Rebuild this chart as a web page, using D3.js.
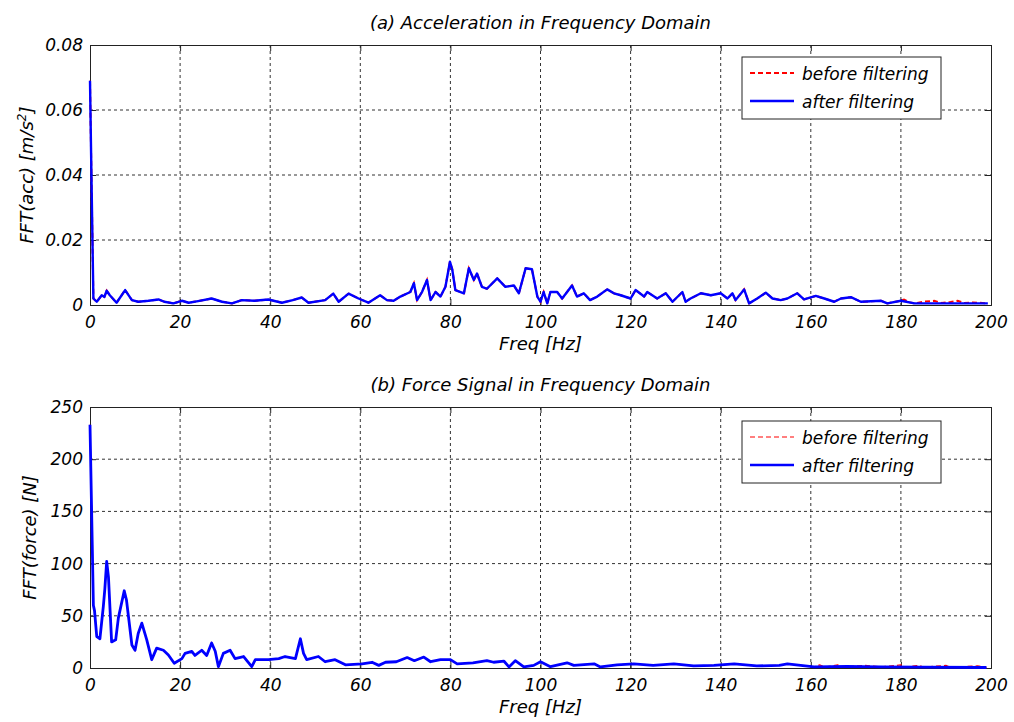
<!DOCTYPE html>
<html>
<head>
<meta charset="utf-8">
<title>FFT before / after filtering</title>
<script src="https://cdnjs.cloudflare.com/ajax/libs/d3/7.8.5/d3.min.js"></script>
<style>
  body { margin: 0; background: #fff; }
  svg text { font-family: "DejaVu Sans", sans-serif; font-style: oblique; fill: #000; }
  .tick text { font-size: 17px; }
</style>
</head>
<body>
<svg id="chart" width="1014" height="722"></svg>
<script>
// ---- data ----
var freqTicks = [0, 20, 40, 60, 80, 100, 120, 140, 160, 180, 200];
var accTicks = [0, 0.02, 0.04, 0.06, 0.08];
var forceTicks = [0, 50, 100, 150, 200, 250];

var accFreq = [0, 0.25, 0.5, 0.75, 1.5, 2.6, 3.2, 3.7, 4.4, 5.9, 7.8, 9.3, 10.7, 13, 15.2, 16.5, 18.5, 20.4, 21.9, 24, 27, 29.3, 31.5, 33.7, 36.5, 39.6, 42.6, 45, 47, 48.5, 52.2, 54, 55.2, 57.4, 59.6, 61.8, 64.4, 65.9, 67.4, 68.9, 71.1, 71.9, 72.6, 73.7, 74.8, 75.6, 76.7, 77.8, 78.9, 79.9, 80.4, 81.1, 83, 84.1, 85.2, 85.9, 87, 88.1, 90.4, 92.2, 94.1, 95.2, 96.7, 98.1, 99.3, 100, 100.7, 101.5, 102.2, 103.7, 104.8, 107, 108.1, 109.6, 111, 112.6, 114.8, 116.3, 117.8, 120, 121.1, 123, 123.7, 125.9, 127.8, 129.3, 131.5, 132.2, 133.3, 135.6, 137.8, 140, 141.5, 142.6, 143.3, 145.2, 146.3, 148.1, 150, 151.5, 153.3, 154.8, 157, 158.5, 161.1, 163, 165.2, 166.7, 168.9, 171.1, 175.6, 177, 180, 183, 190, 199.3];
var accAfter = [0.069, 0.046, 0.024, 0.002, 0.001, 0.003, 0.0025, 0.0044, 0.003, 0.0007, 0.0046, 0.0015, 0.001, 0.0013, 0.0017, 0.001, 0.0005, 0.0013, 0.0007, 0.0012, 0.002, 0.001, 0.0005, 0.0015, 0.0013, 0.0017, 0.0007, 0.0015, 0.0023, 0.0007, 0.0015, 0.0035, 0.001, 0.0035, 0.002, 0.0007, 0.003, 0.0015, 0.0013, 0.0026, 0.004, 0.0067, 0.0015, 0.004, 0.0077, 0.0015, 0.004, 0.0026, 0.0056, 0.0133, 0.011, 0.0046, 0.0036, 0.0113, 0.0077, 0.0097, 0.0056, 0.005, 0.0082, 0.0056, 0.006, 0.0036, 0.0113, 0.011, 0.0026, 0.001, 0.004, 0.0005, 0.004, 0.004, 0.002, 0.006, 0.0026, 0.0036, 0.0015, 0.0026, 0.0048, 0.0036, 0.003, 0.002, 0.0046, 0.0026, 0.004, 0.002, 0.0036, 0.001, 0.004, 0.001, 0.002, 0.0036, 0.003, 0.0036, 0.002, 0.0036, 0.0015, 0.0048, 0.0005, 0.002, 0.0038, 0.002, 0.0015, 0.002, 0.0036, 0.0017, 0.0028, 0.002, 0.001, 0.002, 0.0024, 0.001, 0.0013, 0.0005, 0.0013, 0.0005, 0.0005, 0.0005];

var accFreqBefore = [0, 0.25, 0.5, 0.75, 1.5, 2.6, 3.2, 3.7, 4.4, 5.9, 7.8, 9.3, 10.7, 13, 15.2, 16.5, 18.5, 20.4, 21.9, 24, 27, 29.3, 31.5, 33.7, 36.5, 39.6, 42.6, 45, 47, 48.5, 52.2, 54, 55.2, 57.4, 59.6, 61.8, 64.4, 65.9, 67.4, 68.9, 71.1, 71.9, 72.6, 73.7, 74.8, 75.6, 76.7, 77.8, 78.9, 79.9, 80.4, 81.1, 83, 84.1, 85.2, 85.9, 87, 88.1, 90.4, 92.2, 94.1, 95.2, 96.7, 98.1, 99.3, 100, 100.7, 101.5, 102.2, 103.7, 104.8, 107, 108.1, 109.6, 111, 112.6, 114.8, 116.3, 117.8, 120, 121.1, 123, 123.7, 125.9, 127.8, 129.3, 131.5, 132.2, 133.3, 135.6, 137.8, 140, 141.5, 142.6, 143.3, 145.2, 146.3, 148.1, 150, 151.5, 153.3, 154.8, 157, 158.5, 161.1, 163, 165.2, 166.7, 168.9, 171.1, 175.6, 177, 180, 180.7, 182, 183, 185, 187.4, 189, 191, 192.6, 194, 196, 199.3];
var accBefore = [0.069, 0.046, 0.024, 0.002, 0.001, 0.003, 0.0025, 0.0044, 0.003, 0.0007, 0.0046, 0.0015, 0.001, 0.0013, 0.0017, 0.001, 0.0005, 0.0013, 0.0007, 0.0012, 0.002, 0.001, 0.0005, 0.0015, 0.0013, 0.0017, 0.0007, 0.0015, 0.0023, 0.0007, 0.0015, 0.0035, 0.001, 0.0035, 0.002, 0.0007, 0.003, 0.0015, 0.0013, 0.0026, 0.004, 0.0067, 0.0015, 0.004, 0.0077, 0.0015, 0.004, 0.0026, 0.0056, 0.0133, 0.011, 0.0046, 0.0036, 0.0113, 0.0077, 0.0097, 0.0056, 0.005, 0.0082, 0.0056, 0.006, 0.0036, 0.0113, 0.011, 0.0026, 0.001, 0.004, 0.0005, 0.004, 0.004, 0.002, 0.006, 0.0026, 0.0036, 0.0015, 0.0026, 0.0048, 0.0036, 0.003, 0.002, 0.0046, 0.0026, 0.004, 0.002, 0.0036, 0.001, 0.004, 0.001, 0.002, 0.0036, 0.003, 0.0036, 0.002, 0.0036, 0.0015, 0.0048, 0.0005, 0.002, 0.0038, 0.002, 0.0015, 0.002, 0.0036, 0.0017, 0.0028, 0.002, 0.001, 0.002, 0.0024, 0.001, 0.0013, 0.0005, 0.0013, 0.0017, 0.0008, 0.0005, 0.001, 0.0013, 0.0006, 0.0009, 0.0013, 0.0006, 0.0008, 0.0005];

var forceFreq = [0, 0.25, 0.5, 0.75, 1.0, 1.5, 2.2, 2.96, 3.3, 3.7, 4.1, 4.8, 5.7, 6.3, 7.6, 8.1, 9.3, 10, 10.7, 11.5, 12.6, 13.7, 14.8, 16.3, 17.4, 18.7, 20.4, 21.1, 22.6, 23.3, 24.8, 25.9, 27, 27.8, 28.5, 29.6, 31.1, 32.2, 34.1, 35.9, 36.7, 39.6, 41.9, 43.3, 45.6, 46.7, 47.4, 48.1, 50.7, 52.2, 54.4, 56.7, 60.4, 62.6, 64.1, 65.6, 68, 70.4, 72, 74.1, 75.6, 77.8, 80, 81.5, 85, 88.1, 89.6, 91.9, 93, 94.4, 96.3, 98.5, 100, 102.2, 105.9, 107.4, 111.9, 113.3, 117, 120.7, 125, 129.6, 134, 138.5, 143, 148, 153, 154.8, 160.7, 168, 175.6, 185, 199];
var forceAfter = [233, 175, 118, 60, 55, 30, 28, 59, 76, 102, 87, 25, 27, 48, 74, 65, 22, 17, 33, 43, 27, 8, 19, 17, 12.5, 4.5, 9, 14, 16, 12, 17, 12, 24, 16, 1.3, 14, 17, 9, 11, 1.3, 8, 8, 9, 11, 9, 28, 14, 8, 11, 6, 8, 3, 4, 5.5, 2.5, 5.5, 6, 10, 7, 10.5, 6, 8, 8, 4, 5, 7, 5.5, 6.5, 1, 7, 1, 2.5, 6, 1.3, 5, 2.5, 4, 1, 3, 4, 2.5, 4, 2, 2.5, 4, 2, 2.5, 4, 1, 1.5, 1, 0.8, 0.5];

var forceFreqBefore = [0, 0.25, 0.5, 0.75, 1.0, 1.5, 2.2, 2.96, 3.3, 3.7, 4.1, 4.8, 5.7, 6.3, 7.6, 8.1, 9.3, 10, 10.7, 11.5, 12.6, 13.7, 14.8, 16.3, 17.4, 18.7, 20.4, 21.1, 22.6, 23.3, 24.8, 25.9, 27, 27.8, 28.5, 29.6, 31.1, 32.2, 34.1, 35.9, 36.7, 39.6, 41.9, 43.3, 45.6, 46.7, 47.4, 48.1, 50.7, 52.2, 54.4, 56.7, 60.4, 62.6, 64.1, 65.6, 68, 70.4, 72, 74.1, 75.6, 77.8, 80, 81.5, 85, 88.1, 89.6, 91.9, 93, 94.4, 96.3, 98.5, 100, 102.2, 105.9, 107.4, 111.9, 113.3, 117, 120.7, 125, 129.6, 131, 134, 138.5, 143, 148, 153, 154.8, 160.7, 162, 163, 166, 167, 172, 175.6, 180, 181, 184, 185, 190, 191, 197, 199];
var forceBefore = [233, 175, 118, 60, 55, 30, 28, 59, 76, 102, 87, 25, 27, 48, 74, 65, 22, 17, 33, 43, 27, 8, 19, 17, 12.5, 4.5, 9, 14, 16, 12, 17, 12, 24, 16, 1.3, 14, 17, 9, 11, 1.3, 8, 8, 9, 11, 9, 28, 14, 8, 11, 6, 8, 3, 4, 5.5, 2.5, 5.5, 6, 10, 7, 10.5, 6, 8, 8, 4, 5, 7, 5.5, 6.5, 1, 7, 1, 2.5, 6, 1.3, 5, 2.5, 4, 1, 3, 4, 2.5, 4, 3.5, 2, 2.5, 4, 2, 2.5, 4, 1, 3, 1, 3, 1, 2.5, 1, 3, 1, 2.5, 0.8, 2.5, 0.8, 2, 0.5];

var svg = d3.select("#chart");
var left = 90, right = 991;

function panel(o) {
  var x = d3.scaleLinear().domain([0, 200]).range([left, right]);
  var y = d3.scaleLinear().domain([0, o.yMax]).range([o.bottom, o.top]);
  var g = svg.append("g");

  // grid
  g.selectAll(".gx").data(freqTicks.slice(1, -1)).enter().append("line")
    .attr("x1", function(d) { return x(d); }).attr("x2", function(d) { return x(d); })
    .attr("y1", o.top).attr("y2", o.bottom)
    .attr("stroke", "#333").attr("stroke-dasharray", "3,3");
  g.selectAll(".gy").data(o.yTicks.slice(1, -1)).enter().append("line")
    .attr("y1", function(d) { return y(d); }).attr("y2", function(d) { return y(d); })
    .attr("x1", left).attr("x2", right)
    .attr("stroke", "#333").attr("stroke-dasharray", "3,3");

  // axes
  var xa = g.append("g").attr("transform", "translate(0," + o.bottom + ")")
    .call(d3.axisBottom(x).tickValues(freqTicks).tickSize(-6).tickPadding(11).tickFormat(d3.format("d")));
  var ya = g.append("g").attr("transform", "translate(" + left + ",0)")
    .call(d3.axisLeft(y).tickValues(o.yTicks).tickSize(-6).tickPadding(7).tickFormat(o.fmt));
  g.append("g").attr("transform", "translate(0," + o.top + ")")
    .call(d3.axisTop(x).tickValues(freqTicks).tickSize(-6).tickFormat(""));
  g.append("g").attr("transform", "translate(" + right + ",0)")
    .call(d3.axisRight(y).tickValues(o.yTicks).tickSize(-6).tickFormat(""));
  g.selectAll(".domain").attr("stroke", "#222");
  g.selectAll(".tick line").attr("stroke", "#222");
  xa.selectAll("text").attr("fill", "#000").attr("dy", "0.71em");
  ya.selectAll("text").attr("fill", "#000");

  // series
  var line = d3.line().x(function(d) { return x(d[0]); }).y(function(d) { return y(d[1]); });
  g.append("path").datum(d3.zip(o.fBefore, o.before))
    .attr("d", line).attr("fill", "none").attr("stroke", "#ff0000")
    .attr("stroke-width", o.redW).attr("stroke-dasharray", "5,3");
  g.append("path").datum(d3.zip(o.fAfter, o.after))
    .attr("d", line).attr("fill", "none").attr("stroke", "#0000ff")
    .attr("stroke-width", o.blueW).attr("stroke-linejoin", "round");

  // labels
  g.append("text").attr("x", (left + right) / 2).attr("y", o.top - 16)
    .attr("text-anchor", "middle").style("font-size", "18px").text(o.title);
  g.append("text").attr("x", (left + right) / 2).attr("y", o.bottom + 45)
    .attr("text-anchor", "middle").style("font-size", "18px").text("Freq [Hz]");
  var yl = g.append("text").attr("transform", "translate(" + o.ylX + "," + ((o.top + o.bottom) / 2) + ") rotate(-90)")
    .attr("text-anchor", "middle").style("font-size", "18px");
  yl.append("tspan").text(o.ylabel);
  if (o.sup) {
    yl.append("tspan").attr("dy", -7).style("font-size", "12px").text(o.sup);
    yl.append("tspan").attr("dy", 7).text("]");
  }

  // legend
  var lg = g.append("g").attr("transform", "translate(742," + o.legY + ")");
  lg.append("rect").attr("width", 199).attr("height", 62)
    .attr("fill", "#fff").attr("stroke", "#222");
  lg.append("line").attr("x1", 8).attr("x2", 52).attr("y1", 16).attr("y2", 16)
    .attr("stroke", "#ff0000").attr("stroke-width", o.redW).attr("stroke-dasharray", "5,3");
  lg.append("line").attr("x1", 8).attr("x2", 52).attr("y1", 44).attr("y2", 44)
    .attr("stroke", "#0000ff").attr("stroke-width", 2.5);
  lg.append("text").attr("x", 60).attr("y", 23).style("font-size", "17px").text("before filtering");
  lg.append("text").attr("x", 60).attr("y", 51).style("font-size", "17px").text("after filtering");
}

panel({
  top: 45, bottom: 305, yMax: 0.08, yTicks: accTicks,
  fmt: function(d) { return d === 0 ? "0" : d3.format(".2f")(d); },
  fAfter: accFreq, after: accAfter, fBefore: accFreqBefore, before: accBefore,
  redW: 2, blueW: 2.4,
  title: "(a) Acceleration in Frequency Domain",
  ylabel: "FFT(acc) [m/s", sup: "2", ylX: 33, legY: 57
});

panel({
  top: 407, bottom: 668, yMax: 250, yTicks: forceTicks,
  fmt: d3.format("d"),
  fAfter: forceFreq, after: forceAfter, fBefore: forceFreqBefore, before: forceBefore,
  redW: 1.2, blueW: 2.8,
  title: "(b) Force Signal in Frequency Domain",
  ylabel: "FFT(force) [N]", sup: null, ylX: 36, legY: 421
});
</script>
</body>
</html>
